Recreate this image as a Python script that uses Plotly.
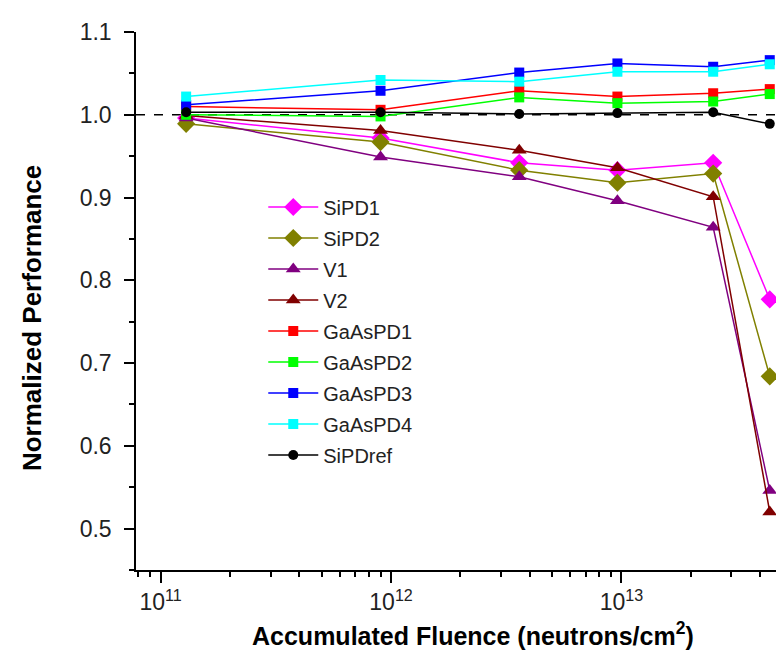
import plotly.graph_objects as go

fluence = [1.29e11, 9.0e11, 3.6e12, 9.6e12, 2.5e13, 4.4e13]

SiPD1 = [0.996, 0.972, 0.942, 0.933, 0.942, 0.777]
SiPD2 = [0.989, 0.967, 0.933, 0.918, 0.929, 0.684]
V1 = [0.996, 0.949, 0.925, 0.896, 0.864, 0.546]
V2 = [0.999, 0.981, 0.957, 0.936, 0.901, 0.520]
GaAsPD1 = [1.010, 1.006, 1.029, 1.022, 1.026, 1.031]
GaAsPD2 = [1.000, 0.998, 1.021, 1.014, 1.016, 1.025]
GaAsPD3 = [1.012, 1.029, 1.051, 1.062, 1.058, 1.066]
GaAsPD4 = [1.022, 1.042, 1.040, 1.052, 1.052, 1.061]
SiPDref = [1.003, 1.003, 1.001, 1.002, 1.003, 0.989]

series = [
    ("SiPD1", SiPD1, "#FF00FF", "diamond", 14),
    ("SiPD2", SiPD2, "#808000", "diamond", 14),
    ("V1", V1, "#800080", "triangle-up", 13),
    ("V2", V2, "#800000", "triangle-up", 13),
    ("GaAsPD1", GaAsPD1, "#FF0000", "square", 10),
    ("GaAsPD2", GaAsPD2, "#00FF00", "square", 10),
    ("GaAsPD3", GaAsPD3, "#0000FF", "square", 10),
    ("GaAsPD4", GaAsPD4, "#00FFFF", "square", 10),
    ("SiPDref", SiPDref, "#000000", "circle", 10),
]

x_tickvals = [1e11, 1e12, 1e13]
x_ticktext = ["10<sup>11</sup>", "10<sup>12</sup>", "10<sup>13</sup>"]
x_minor = [m * 10**e for e in (10, 11, 12, 13) for m in range(2, 10)]
y_tickvals = [0.5, 0.6, 0.7, 0.8, 0.9, 1.0, 1.1]

x_title = "<b>Accumulated Fluence (neutrons/cm<sup>2</sup>)</b>"
y_title = "<b>Normalized Performance</b>"

fig = go.Figure()
fig.add_hline(y=1.0, line=dict(color="black", width=1.5, dash="dash"), layer="below")
for i, (name, vals, color, sym, size) in enumerate(series):
    fig.add_trace(go.Scatter(
        x=fluence, y=vals, name=name, mode="lines+markers",
        legendgroup=f"g{i}",
        line=dict(color=color, width=1.5),
        marker=dict(symbol=sym, size=size, color=color, line=dict(width=0)),
    ))

fig.add_annotation(text=x_title, xref="paper", yref="paper", x=0.514, y=-0.119,
                   xanchor="center", yanchor="middle", showarrow=False,
                   font=dict(size=25, color="black"))
fig.add_annotation(text=y_title, xref="paper", yref="paper", x=-0.1595, y=0.469,
                   xanchor="center", yanchor="middle", showarrow=False, textangle=-90,
                   font=dict(size=26, color="black"))

fig.update_layout(
    width=784, height=657,
    margin=dict(l=128, r=0, t=24, b=95),
    plot_bgcolor="white", paper_bgcolor="white",
    font=dict(family="Liberation Sans, Arial, sans-serif", color="#222"),
    legend=dict(
        x=0.194, y=0.711, xanchor="left", yanchor="top",
        font=dict(size=20, color="#222"),
        bgcolor="rgba(0,0,0,0)", tracegroupgap=2, itemwidth=50,
    ),
    xaxis=dict(
        type="log", range=[10.893, 13.74],
        showline=True, linecolor="black", linewidth=1.5,
        showgrid=False, zeroline=False,
        tickmode="array", tickvals=x_tickvals, ticktext=x_ticktext,
        ticks="outside", ticklen=11, tickwidth=1.5, tickcolor="black",
        tickfont=dict(size=23, color="#222"),
        minor=dict(tickmode="array", tickvals=x_minor, ticks="outside",
                   ticklen=5, tickwidth=1.5, tickcolor="black", showgrid=False),
    ),
    yaxis=dict(
        range=[0.45, 1.1],
        showline=True, linecolor="black", linewidth=1.5,
        showgrid=False, zeroline=False,
        tickmode="array", tickvals=y_tickvals, tickformat=".1f",
        ticks="outside", ticklen=10, tickwidth=1.5, tickcolor="black",
        tickfont=dict(size=23, color="#222"), ticklabelstandoff=8,
        minor=dict(dtick=0.05, ticks="outside", ticklen=5, tickwidth=1.5,
                   tickcolor="black", showgrid=False),
    ),
)

fig.write_html("out.html")
